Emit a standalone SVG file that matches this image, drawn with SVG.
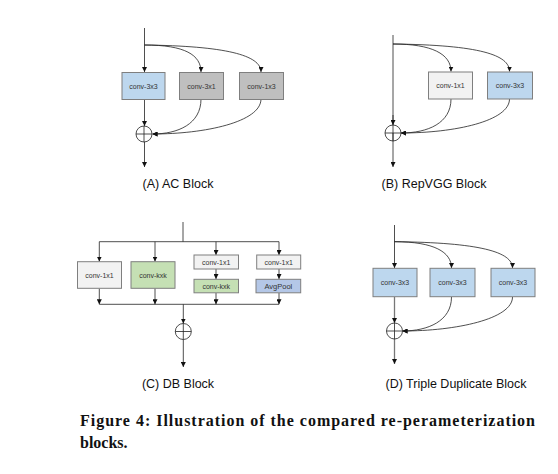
<svg xmlns="http://www.w3.org/2000/svg" width="558" height="474" viewBox="0 0 558 474">
<style>
.box{stroke:#7f7f7f;stroke-width:1}
.blue{fill:#bdd7ee}
.grey{fill:#bfbfbf}
.light{fill:#f2f2f2}
.green{fill:#c5e0b4}
.pool{fill:#b4c7e7}
.bt{font-family:"Liberation Sans",Arial,sans-serif;font-size:7px;fill:#333;text-anchor:middle}
.lbl{font-family:"Liberation Sans",Arial,sans-serif;font-size:12.5px;fill:#111;text-anchor:middle}
.cap{font-family:"Liberation Serif","Times New Roman",serif;font-size:16px;font-weight:bold;fill:#111}
.ln{fill:none;stroke:#222;stroke-width:0.8}
.ar{fill:none;stroke:#222;stroke-width:0.8;marker-end:url(#ah)}
.sum{fill:none;stroke:#222;stroke-width:0.8}
</style>
<defs>
<marker id="ah" viewBox="0 0 8 8" refX="8" refY="4" markerWidth="5" markerHeight="5" orient="auto" markerUnits="userSpaceOnUse">
<path d="M0,0 L8,4 L0,8 z" fill="#111"/>
</marker>
</defs>
<rect width="558" height="474" fill="#fff"/>

<g id="connectors">
<!-- A -->
<path class="ar" d="M144.5,28 V72"/>
<path class="ar" d="M144.5,45 C185,45 201,55 201,72"/>
<path class="ar" d="M144.5,45 C225,46 261,55 261,72"/>
<path class="ar" d="M144.5,99 V126"/>
<path class="ar" d="M201,99 C201,124 178,134 152.5,134"/>
<path class="ar" d="M261,99 C261,122 205,134 152.5,134"/>
<path class="ar" d="M144.5,142 V167"/>
<!-- B -->
<path class="ln" d="M393,35 V125"/>
<path class="ar" d="M393,115 V125"/>
<path class="ar" d="M393,44 C432,44 451,54 451,71.5"/>
<path class="ar" d="M393,44 C480,45 509.5,55 509.5,71.5"/>
<path class="ar" d="M451,99 C451,123 428,133 401,133"/>
<path class="ar" d="M509.5,99 C509.5,121 455,133 401,133"/>
<path class="ar" d="M393,133 V167"/>
<!-- C -->
<path class="ln" d="M183,222 V241.7"/>
<path class="ln" d="M99.3,241.7 H279"/>
<path class="ar" d="M99.3,241.7 V261.5"/>
<path class="ar" d="M155,241.7 V261.5"/>
<path class="ar" d="M216,241.7 V255"/>
<path class="ar" d="M279,241.7 V255"/>
<path class="ar" d="M216,269 V279"/>
<path class="ar" d="M279,269 V279"/>
<path class="ln" d="M99.3,304.3 H279"/>
<path class="ar" d="M99.3,288.5 V304.3"/>
<path class="ar" d="M155,288.5 V304.3"/>
<path class="ar" d="M216,293 V304.3"/>
<path class="ar" d="M279,293 V304.3"/>
<path class="ar" d="M183.3,304.3 V323.5"/>
<path class="ar" d="M183.3,339.5 V367"/>
<!-- D -->
<path class="ar" d="M394.5,225 V268"/>
<path class="ar" d="M394.5,241.7 C434,241.7 451.5,252 451.5,268"/>
<path class="ar" d="M394.5,241.7 C480,242.5 512.5,252 512.5,268"/>
<path class="ar" d="M394.5,297 V323" style="stroke:#777;stroke-width:1.3"/>
<path class="ar" d="M451.5,297 C451.5,321 428,331 402.5,331"/>
<path class="ar" d="M512.5,297 C512.5,319 456,331 402.5,331"/>
<path class="ar" d="M394.5,339 V364" style="stroke:#777;stroke-width:1.3"/>
</g>

<g id="A-conv3x3"><rect class="box blue" x="122" y="72.5" width="43" height="27"/><text class="bt" x="143.5" y="88.5">conv-3x3</text></g>
<g id="A-conv3x1"><rect class="box grey" x="179.5" y="72.5" width="44" height="27"/><text class="bt" x="201.5" y="88.5">conv-3x1</text></g>
<g id="A-conv1x3"><rect class="box grey" x="239.5" y="72.5" width="44" height="27"/><text class="bt" x="261.5" y="88.5">conv-1x3</text></g>
<g id="A-sum"><circle class="sum" cx="144" cy="134" r="8" fill="#fff"/><path class="sum" d="M136,134 H152 M144,126 V142"/></g>
<text class="lbl" x="178" y="187.5">(A) AC Block</text>

<g id="B-conv1x1"><rect class="box light" x="428.5" y="72" width="44" height="27"/><text class="bt" x="450.5" y="88">conv-1x1</text></g>
<g id="B-conv3x3"><rect class="box blue" x="487.5" y="72" width="45" height="27"/><text class="bt" x="510" y="88">conv-3x3</text></g>
<g id="B-sum"><circle class="sum" cx="393" cy="133" r="8"/><path class="sum" d="M385,133 H401 M393,125 V141"/></g>
<text class="lbl" x="434" y="187.5">(B) RepVGG Block</text>

<g id="C-conv1x1"><rect class="box light" x="77.5" y="261.7" width="44" height="26.6"/><text class="bt" x="99.5" y="277.5">conv-1x1</text></g>
<g id="C-convkxk"><rect class="box green" x="131" y="261.7" width="44" height="26.6"/><text class="bt" x="153" y="277.5">conv-kxk</text></g>
<g id="C-conv1x1b"><rect class="box light" x="194" y="255" width="44.5" height="14"/><text class="bt" x="216.2" y="264.5">conv-1x1</text></g>
<g id="C-convkxkb"><rect class="box green" x="194" y="279.3" width="44.5" height="13.5"/><text class="bt" x="216.2" y="288.7">conv-kxk</text></g>
<g id="C-conv1x1c"><rect class="box light" x="256.7" y="255" width="44" height="14"/><text class="bt" x="278.7" y="264.5">conv-1x1</text></g>
<g id="C-avgpool"><rect class="box pool" x="256" y="279.3" width="44.7" height="13.5"/><text class="bt" x="278.4" y="288.9" style="font-size:7.5px">AvgPool</text></g>
<g id="C-sum"><circle class="sum" cx="183.3" cy="331.5" r="8"/><path class="sum" d="M175.3,331.5 H191.3 M183.3,323.5 V339.5"/></g>
<text class="lbl" x="178" y="387.5">(C) DB Block</text>

<g id="D-conv3x3a"><rect class="box blue" x="373" y="268.3" width="44" height="28.4"/><text class="bt" x="395" y="285">conv-3x3</text></g>
<g id="D-conv3x3b"><rect class="box blue" x="430" y="268.3" width="45" height="28.4"/><text class="bt" x="452.5" y="285">conv-3x3</text></g>
<g id="D-conv3x3c"><rect class="box blue" x="491" y="268.3" width="44" height="28.4"/><text class="bt" x="513" y="285">conv-3x3</text></g>
<g id="D-sum"><circle class="sum" cx="394.5" cy="331" r="8"/><path class="sum" d="M386.5,331 H402.5 M394.5,323 V339"/></g>
<text class="lbl" x="456" y="387.5">(D) Triple Duplicate Block</text>

<text class="cap" x="80" y="425.5" textLength="455" lengthAdjust="spacing">Figure 4: Illustration of the compared re-perameterization</text>
<text class="cap" x="80" y="447.5">blocks.</text>
</svg>
